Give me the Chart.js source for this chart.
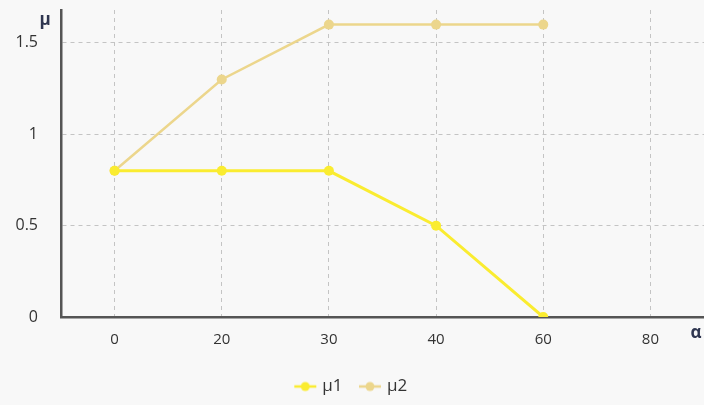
<!DOCTYPE html>
<html>
<head>
<meta charset="utf-8">
<script src="https://cdn.jsdelivr.net/npm/chart.js@4.4.0/dist/chart.umd.min.js"></script>
<style>
  html, body { margin: 0; padding: 0; background: #f8f8f8; }
  #wrap { width: 704px; height: 405px; }
</style>
</head>
<body>
<div id="wrap"><canvas id="chart-mu"></canvas></div>
<script>
// data
const alphaLabels = ["0", "20", "30", "40", "60", "80"];
const mu1Values = [0.8, 0.8, 0.8, 0.5, 0, null];
const mu2Values = [0.8, 1.3, 1.6, 1.6, 1.6, null];
const yTicks = [0, 0.5, 1, 1.5];

const yellow = "rgb(250, 236, 48)";
const khaki = "rgb(236, 214, 140)";
const textColor = "#333";

// legend marker: little line with a dot in the middle
function legendMarker(color) {
    const c = document.createElement("canvas");
    c.width = 24;
    c.height = 12;
    const ctx = c.getContext("2d");
    ctx.strokeStyle = color;
    ctx.lineWidth = 2.5;
    ctx.beginPath();
    ctx.moveTo(1, 6);
    ctx.lineTo(23, 6);
    ctx.stroke();
    ctx.fillStyle = color;
    ctx.beginPath();
    ctx.arc(12, 6, 4.5, 0, Math.PI * 2);
    ctx.fill();
    return c;
}

// x axis runs right up to the edge of the canvas
const stretchRight = {
    id: "stretchRight",
    afterLayout(chart) {
        const x = chart.scales.x;
        x.right = chart.width;
        x.width = x.right - x.left;
        chart.chartArea.right = chart.width;
        chart.chartArea.width = chart.chartArea.right - chart.chartArea.left;
        x.configure();
    },
};

// axis titles μ and α drawn at the ends of the axes
const axisTitles = {
    id: "axisTitles",
    afterDraw(chart) {
        const { ctx, chartArea } = chart;
        ctx.save();
        ctx.fillStyle = "#2f3650";
        ctx.font = "bold 17px 'Open Sans'";
        ctx.textAlign = "center";
        ctx.textBaseline = "middle";
        ctx.fillText("μ", chartArea.left - 16, chartArea.top + 10);
        ctx.fillText("α", chartArea.right - 8, chartArea.bottom + 16);
        ctx.restore();
    },
};

document.addEventListener("DOMContentLoaded", () => {
    const canvas = document.getElementById("chart-mu");
    const config = {
        type: "line",
        data: {
            labels: alphaLabels,
            datasets: [
                {
                    label: "μ1",
                    data: mu1Values,
                    borderColor: yellow,
                    backgroundColor: yellow,
                    borderWidth: 3,
                    pointRadius: 5,
                    pointBorderWidth: 0,
                    tension: 0,
                },
                {
                    label: "μ2",
                    data: mu2Values,
                    borderColor: khaki,
                    backgroundColor: khaki,
                    borderWidth: 2.5,
                    pointRadius: 5,
                    pointBorderWidth: 0,
                    tension: 0,
                },
            ],
        },
        options: {
            responsive: true,
            maintainAspectRatio: false,
            animation: false,
            layout: { padding: { top: 10, right: 0, left: 0, bottom: 0 } },
            plugins: {
                tooltip: { enabled: false },
                legend: {
                    position: "bottom",
                    labels: {
                        color: textColor,
                        font: { family: "'Open Sans'", size: 17 },
                        usePointStyle: true,
                        padding: 19,
                        generateLabels: (chart) =>
                            chart.data.datasets.map((ds, i) => ({
                                text: ds.label,
                                pointStyle: legendMarker(ds.borderColor),
                                fontColor: textColor,
                                hidden: false,
                                datasetIndex: i,
                                lineWidth: 0,
                            })),
                    },
                },
            },
            scales: {
                x: {
                    type: "category",
                    offset: true,
                    afterFit: (scale) => {
                        scale.height -= 4;
                    },
                    grid: {
                        offset: false,
                        color: "#c4c4c4",
                        drawTicks: false,
                        lineWidth: 1,
                    },
                    border: { display: true, color: "#555", width: 2.5, dash: [4, 4] },
                    ticks: {
                        color: textColor,
                        font: { family: "'Open Sans'", size: 15 },
                        padding: 14,
                    },
                },
                y: {
                    min: 0,
                    max: 1.68,
                    afterBuildTicks: (scale) => {
                        scale.ticks = yTicks.map((v) => ({ value: v }));
                    },
                    afterFit: (scale) => {
                        scale.width = 61;
                        scale.paddingTop = 0;
                        scale.paddingBottom = 0;
                    },
                    grid: {
                        color: "#c4c4c4",
                        drawTicks: false,
                        lineWidth: 1,
                    },
                    border: { display: true, color: "#555", width: 2.5, dash: [4, 4] },
                    ticks: {
                        color: textColor,
                        font: { family: "'Open Sans'", size: 16 },
                        padding: 23,
                        callback: (v) => String(v),
                    },
                },
            },
        },
        plugins: [stretchRight, axisTitles],
    };
    canvas.chart = new Chart(canvas, config);
});
</script>
</body>
</html>
